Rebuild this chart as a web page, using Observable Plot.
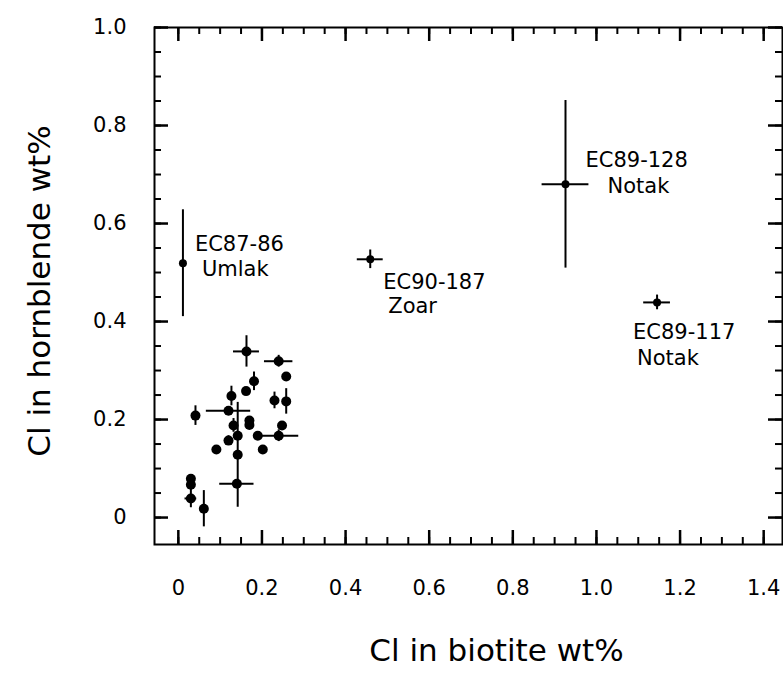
<!DOCTYPE html>
<html><head><meta charset="utf-8">
<script src="https://cdn.jsdelivr.net/npm/d3@7"></script>
<script src="https://cdn.jsdelivr.net/npm/@observablehq/plot@0.6"></script>
<style>body{margin:0;background:#fff} svg{display:block}</style>
</head><body><div id="chart"></div>
<script>
// Cluster of unlabelled samples
const biotiteCl    = [0.163,0.240,0.258,0.181,0.162,0.127,0.230,0.258,0.041,0.120,0.170,0.170,0.132,0.248,0.142,0.190,0.240,0.202,0.091,0.120,0.030,0.030,0.030,0.061,0.142,0.140];
const hornblendeCl = [0.339,0.319,0.288,0.278,0.258,0.248,0.239,0.237,0.208,0.218,0.198,0.189,0.188,0.188,0.167,0.167,0.167,0.139,0.139,0.157,0.079,0.067,0.039,0.018,0.128,0.069];
const biotiteErr   = [0.031,0.034,0,0,0,0,0,0,0.009,0.053,0,0,0,0,0,0,0.048,0,0,0,0,0,0.014,0,0,0.041];
const hornblendeErr= [0.032,0.012,0,0.019,0,0.020,0.017,0.026,0.020,0,0,0,0.014,0,0,0,0.012,0,0,0.010,0,0,0.019,0.037,0.107,0];

// Labelled samples
const sampleIds        = ["EC87-86","EC90-187","EC89-128","EC89-117"];
const plutonNames      = ["Umlak","Zoar","Notak","Notak"];
const sampleBiotiteCl  = [0.011,0.459,0.926,1.145];
const sampleHornblende = [0.519,0.527,0.680,0.439];
const sampleBiotiteErr = [0,0.031,0.056,0.032];
const sampleHornErr    = [0.109,0.019,0.171,0.015];

// Axes
const xTicks = [0,0.2,0.4,0.6,0.8,1.0,1.2,1.4];
const xTickLabels = ["0","0.2","0.4","0.6","0.8","1.0","1.2","1.4"];
const yTicks = [0,0.2,0.4,0.6,0.8,1.0];
const yTickLabels = ["0","0.2","0.4","0.6","0.8","1.0"];
const xMinor = d3.range(0,29).map(i => i*0.05);
const yMinor = d3.range(0,21).map(i => i*0.05);
const xTitle = "Cl in biotite wt%";
const yTitle = "Cl in hornblende wt%";

const pts = biotiteCl.map((x,i)=>({x, y: hornblendeCl[i], ex: biotiteErr[i], ey: hornblendeErr[i]}));
const lab = sampleIds.map((id,i)=>({id, pluton: plutonNames[i], x: sampleBiotiteCl[i], y: sampleHornblende[i], ex: sampleBiotiteErr[i], ey: sampleHornErr[i]}));
const all = pts.concat(lab);

// label placement (pixels)
const offs = {
  "EC87-86": [12,-19,19,6],
  "EC90-187": [13,23,18,47],
  "EC89-128": [20,-24,42,2],
  "EC89-117": [-24,30,-20,56]
};

const W = 783, H = 676, mL = 154, mR = 1, mT = 27, mB = 132;
const fw = W - mL - mR, fh = H - mT - mB;
const font = "DejaVu Sans, sans-serif";
const xFmt = (d)=> xTickLabels[xTicks.indexOf(d)];
const yFmt = (d)=> yTickLabels[yTicks.indexOf(d)];

// inward ticks on all four sides, drawn last so nothing covers them
function tickMarks(xs, ys, len, w) {
  return [
    Plot.tickX(xs, {x: d => d, insetTop: fh - len, stroke: "#000", strokeWidth: w}),
    Plot.tickX(xs, {x: d => d, insetBottom: fh - len, stroke: "#000", strokeWidth: w}),
    Plot.tickY(ys, {y: d => d, insetRight: fw - len, stroke: "#000", strokeWidth: w}),
    Plot.tickY(ys, {y: d => d, insetLeft: fw - len, stroke: "#000", strokeWidth: w})
  ];
}

const chart = Plot.plot({
  width: W, height: H,
  marginLeft: mL, marginRight: mR, marginTop: mT, marginBottom: mB,
  style: {fontFamily: font, background: "white"},
  x: {domain: [-0.057, 1.445]},
  y: {domain: [-0.055, 1.0]},
  marks: [
    // tick labels
    Plot.axisX(xTicks, {anchor: "bottom", tickSize: 0, tickPadding: 36, tickFormat: xFmt, label: null, fontSize: 21}),
    Plot.axisY(yTicks, {anchor: "left", tickSize: 0, tickPadding: 28, tickFormat: yFmt, label: null, fontSize: 21}),
    Plot.frame({stroke: "#000", strokeWidth: 2}),
    // error bars
    Plot.ruleY(all.filter(d=>d.ex>0), {y: "y", x1: d=>d.x-d.ex, x2: d=>d.x+d.ex, stroke: "#000", strokeWidth: 2}),
    Plot.ruleX(all.filter(d=>d.ey>0), {x: "x", y1: d=>d.y-d.ey, y2: d=>d.y+d.ey, stroke: "#000", strokeWidth: 2}),
    Plot.dot(pts, {x: "x", y: "y", r: 5, fill: "#000"}),
    Plot.dot(lab, {x: "x", y: "y", r: 4, fill: "#000"}),
    // labels
    ...lab.map(d => Plot.text([d], {x: "x", y: "y", text: "id", textAnchor: "start", dx: offs[d.id][0], dy: offs[d.id][1], fontSize: 21, fill: "#000"})),
    ...lab.map(d => Plot.text([d], {x: "x", y: "y", text: "pluton", textAnchor: "start", dx: offs[d.id][2], dy: offs[d.id][3], fontSize: 21, fill: "#000"})),
    // axis titles
    Plot.text([xTitle], {frameAnchor: "bottom", textAnchor: "middle", dx: 28, dy: 116, fontSize: 31, fill: "#000"}),
    Plot.text([yTitle], {frameAnchor: "left", textAnchor: "middle", rotate: -90, dx: -114, dy: 5, fontSize: 31, fill: "#000"}),
    // ticks
    ...tickMarks(xMinor, yMinor, 7, 2),
    ...tickMarks(xTicks, yTicks, 14, 2.5)
  ]
});
document.getElementById("chart").appendChild(chart);
</script>
</body></html>
